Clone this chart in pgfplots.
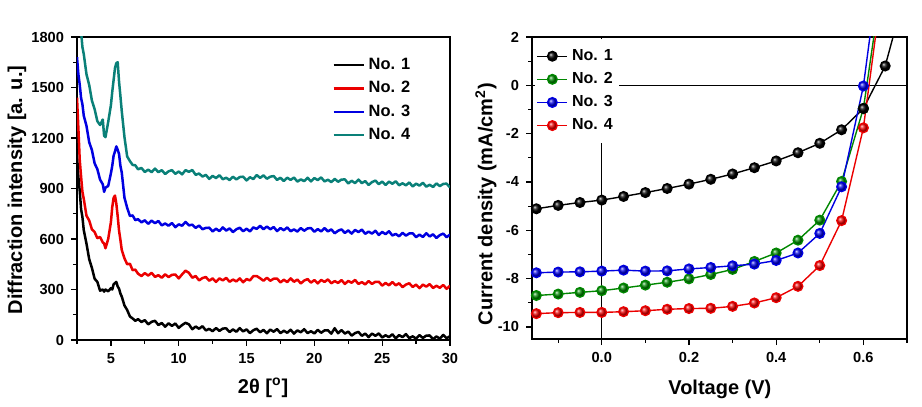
\documentclass[border=0pt]{standalone}
\usepackage{pgfplots}
\pgfplotsset{compat=1.18}
\usepackage{pgfplotstable}
\usepackage{fontspec}
\setmainfont{Liberation Sans}
\definecolor{cteal}{RGB}{10,128,120}
\definecolor{cred}{RGB}{235,0,0}
\definecolor{cblue}{RGB}{0,0,225}
\definecolor{cgreen}{RGB}{0,135,0}

\pgfplotstableread{
x n1 n2 n3 n4
2.5 1100 1440 1680 2100
2.6 970 1260 1580 2000
2.7 888 1072 1518 1900
2.8 778 972 1438 1832
2.9 730 880 1400 1740
3.0 652 838 1332 1698
3.2 572 738 1272 1578
3.4 480 710 1175 1515
3.6 428 657 1128 1422
3.8 364 641 1049 1371
4.0 345 605 1015 1300
4.2 293 612 953 1277
4.4 300 580 925 1310
4.5 287 573 880 1213
4.6 300 545 905 1205
4.8 289 600 915 1295
5.0 308 700 990 1395
5.1 300 790 1035 1475
5.2 331 845 1095 1545
5.3 338 858 1120 1615
5.4 345 810 1150 1645
5.5 318 735 1130 1650
5.6 305 650 1105 1535
5.7 276 595 1035 1450
5.8 258 535 995 1360
6.0 205 485 845 1205
6.2 178 450 785 1090
6.4 140 453 737 1063
6.6 128 415 740 1040
6.8 114 418 712 1038
7.0 124 394 718 1014
7.25 107 380 699 1022
7.5 118 397 711 998
7.75 93 383 690 1012
8.0 108 399 709 997
8.25 114 375 694 1018
8.5 89 385 707 997
8.75 101 370 681 1009
9.0 79 390 692 986
9.25 99 374 679 1002
9.5 84 387 695 1009
9.75 98 389 670 987
10.0 72 366 687 1001
10.25 89 390 679 984
10.5 102 412 701 1009
10.75 93 399 681 999
11.0 64 370 685 1010
11.25 80 380 666 981
11.5 67 354 680 989
11.75 82 368 658 971
12.0 57 374 666 981
12.25 66 352 667 957
12.5 52 366 645 975
12.75 71 345 661 962
13.0 54 366 647 979
13.25 68 354 669 955
13.5 69 369 650 964
13.75 47 346 663 950
14.0 63 359 641 970
14.25 49 348 658 954
14.5 71 366 667 968
14.75 51 343 646 970
15.0 63 362 661 948
15.25 41 354 645 967
15.5 58 379 669 956
15.75 67 380 660 980
16.0 46 367 678 963
16.25 60 352 658 978
16.5 40 370 674 958
16.75 62 352 658 970
17.0 49 364 671 974
17.25 65 365 647 951
17.5 41 342 665 964
17.75 55 358 652 944
18.0 43 344 669 964
18.25 61 366 646 951
18.5 38 346 657 965
18.75 57 359 644 941
19.0 46 336 665 954
19.25 64 353 649 944
19.5 41 362 663 964
19.75 52 341 665 942
20.0 39 356 643 962
20.25 60 336 659 950
20.5 43 357 645 966
20.75 57 345 665 942
21.0 58 360 645 952
21.25 38 337 657 938
21.5 70 350 634 957
21.75 40 339 649 940
22.0 59 356 657 953
22.25 38 333 636 954
22.5 50 351 651 930
22.75 26 340 632 946
23.0 41 357 654 932
23.25 48 333 641 953
23.5 25 344 656 932
23.75 38 330 631 944
24.0 17 350 644 921
24.25 38 333 632 938
24.5 25 346 649 947
24.75 39 346 624 926
25.0 15 323 642 941
25.25 28 339 629 921
25.5 17 325 646 941
25.75 34 345 621 928
26.0 10 325 630 943
26.25 29 337 616 919
26.5 17 314 637 931
26.75 35 329 620 919
27.0 11 337 633 936
27.25 22 315 634 912
27.5 8 329 611 929
27.75 29 308 626 917
28.0 12 329 612 934
28.25 26 317 634 911
28.5 27 332 615 922
28.75 5 309 628 909
29.0 21 322 606 930
29.25 8 310 623 914
29.5 30 327 632 927
29.75 10 304 611 929
30.0 23 322 626 906
}\xrd

\pgfplotstableread{
v j1 j2 j3 j4
-0.15 -5.11 -8.70 -7.76 -9.45
-0.10 -4.97 -8.64 -7.73 -9.41
-0.05 -4.85 -8.57 -7.72 -9.40
0.00 -4.75 -8.50 -7.69 -9.40
0.05 -4.60 -8.39 -7.65 -9.37
0.10 -4.44 -8.27 -7.69 -9.33
0.15 -4.27 -8.15 -7.68 -9.27
0.20 -4.09 -8.01 -7.60 -9.24
0.25 -3.89 -7.83 -7.54 -9.23
0.30 -3.67 -7.62 -7.47 -9.15
0.35 -3.41 -7.29 -7.40 -9.01
0.40 -3.13 -6.94 -7.25 -8.79
0.45 -2.79 -6.41 -6.94 -8.32
0.50 -2.40 -5.58 -6.13 -7.46
0.55 -1.84 -3.98 -4.20 -5.60
0.60 -0.96 -0.96 -0.03 -1.76
}\jv

\begin{document}
\begin{tikzpicture}
\path (0,0) rectangle (461pt,203.5pt);
\begin{axis}[
  at={(38.5pt,33.5pt)}, anchor=south west, scale only axis,
  width=186.5pt, height=151.5pt,
  xmin=2.5, xmax=30, ymin=0, ymax=1800,
  xtick={5,10,...,30}, minor xtick={2.5,7.5,...,27.5},
  ytick={0,300,...,1800}, minor ytick={150,450,...,1650},
  tick align=outside, tick pos=left,
  major tick length=3pt, minor tick length=2pt,
  axis line style={line width=0.7pt},
  every tick/.style={black, line width=0.6pt},
  tick label style={font=\fontsize{7.3}{8}\selectfont\bfseries},
  /pgf/number format/assume math mode=true,
  /pgf/number format/1000 sep={},
  xlabel={2θ [\textsuperscript{o}]},
  ylabel={Diffraction intensity [a. u.]},
  label style={font=\fontsize{10}{12}\selectfont\bfseries},
  xlabel style={at={(axis description cs:0.499,-0.175)}, anchor=base},
  ylabel style={at={(axis description cs:-0.161,0.495)}, anchor=center},
  legend style={at={(0.684,0.945)}, anchor=north west, draw=none, fill=none,
    font=\fontsize{8.2}{9}\selectfont\bfseries, inner sep=0pt, row sep=0.5pt},
  legend cell align=left,
  legend image code/.code={\draw[#1, line width=1.1pt] (0pt,0pt) -- (15pt,0pt);},
  clip=true,
]
\addplot[black, line width=1.25pt, line join=round] table[x=x, y=n1] {\xrd};
\addlegendentry{No. 1}
\addplot[cred, line width=1.25pt, line join=round] table[x=x, y=n2] {\xrd};
\addlegendentry{No. 2}
\addplot[cblue, line width=1.25pt, line join=round] table[x=x, y=n3] {\xrd};
\addlegendentry{No. 3}
\addplot[cteal, line width=1.25pt, line join=round] table[x=x, y=n4] {\xrd};
\addlegendentry{No. 4}
\end{axis}

\begin{axis}[
  at={(266pt,34pt)}, anchor=south west, scale only axis,
  width=187.5pt, height=151pt,
  xmin=-0.16, xmax=0.7, ymin=-10.5, ymax=2,
  xtick={0,0.2,0.4,0.6}, minor xtick={-0.1,0.1,0.3,0.5,0.7},
  ytick={-10,-8,...,2}, minor ytick={-9,-7,...,1},
  tick align=outside, tick pos=left,
  major tick length=3pt, minor tick length=2pt,
  axis line style={line width=1pt},
  every tick/.style={black, line width=0.6pt},
  tick label style={font=\fontsize{7.3}{8}\selectfont\bfseries},
  xticklabel style={/pgf/number format/.cd, fixed, fixed zerofill, precision=1},
  /pgf/number format/assume math mode=true,
  xlabel={Voltage (V)},
  ylabel={Current density (mA/cm\textsuperscript{2})},
  label style={font=\fontsize{10}{12}\selectfont\bfseries},
  xlabel style={at={(axis description cs:0.501,-0.185)}, anchor=base},
  ylabel style={at={(axis description cs:-0.123,0.447)}, anchor=center},
  legend style={at={(0.006,0.994)}, anchor=north west, draw=none, fill=white,
    font=\fontsize{8}{9}\selectfont\bfseries, inner xsep=1pt, inner ysep=3pt, row sep=0.5pt},
  legend cell align=left,
  legend image code/.code={\draw[mark repeat=2,mark phase=2,#1] plot coordinates {(0pt,0pt) (7.5pt,0pt) (15pt,0pt)};},
  clip=true,
]
\draw[line width=0.5pt] (axis cs:-0.16,0) -- (axis cs:0.7,0);
\draw[line width=0.5pt] (axis cs:0,-10.5) -- (axis cs:0,2);
\addplot[black, line width=0.7pt, mark=ball, mark size=2.4pt, mark options={ball color=black}] table[x=v, y=j1] {\jv};
\addlegendentry{No. 1}
\addplot[cgreen, line width=0.7pt, mark=ball, mark size=2.4pt, mark options={ball color=cgreen}] table[x=v, y=j2] {\jv};
\addlegendentry{No. 2}
\addplot[cblue, line width=0.7pt, mark=ball, mark size=2.4pt, mark options={ball color=cblue}] table[x=v, y=j3] {\jv};
\addlegendentry{No. 3}
\addplot[cred, line width=0.7pt, mark=ball, mark size=2.4pt, mark options={ball color=cred}] table[x=v, y=j4] {\jv};
\addlegendentry{No. 4}
\addplot[black, line width=0.7pt, mark=ball, mark size=2.4pt, mark options={ball color=black}, forget plot] coordinates {(0.60,-0.96) (0.65,0.80) (0.68,2.8)};
\addplot[cgreen, line width=0.7pt, forget plot] coordinates {(0.60,-0.96) (0.632,3)};
\addplot[cblue, line width=0.7pt, forget plot] coordinates {(0.60,-0.03) (0.62,2.7)};
\addplot[cred, line width=0.7pt, forget plot] coordinates {(0.60,-1.76) (0.635,3)};
\end{axis}
\end{tikzpicture}
\end{document}
